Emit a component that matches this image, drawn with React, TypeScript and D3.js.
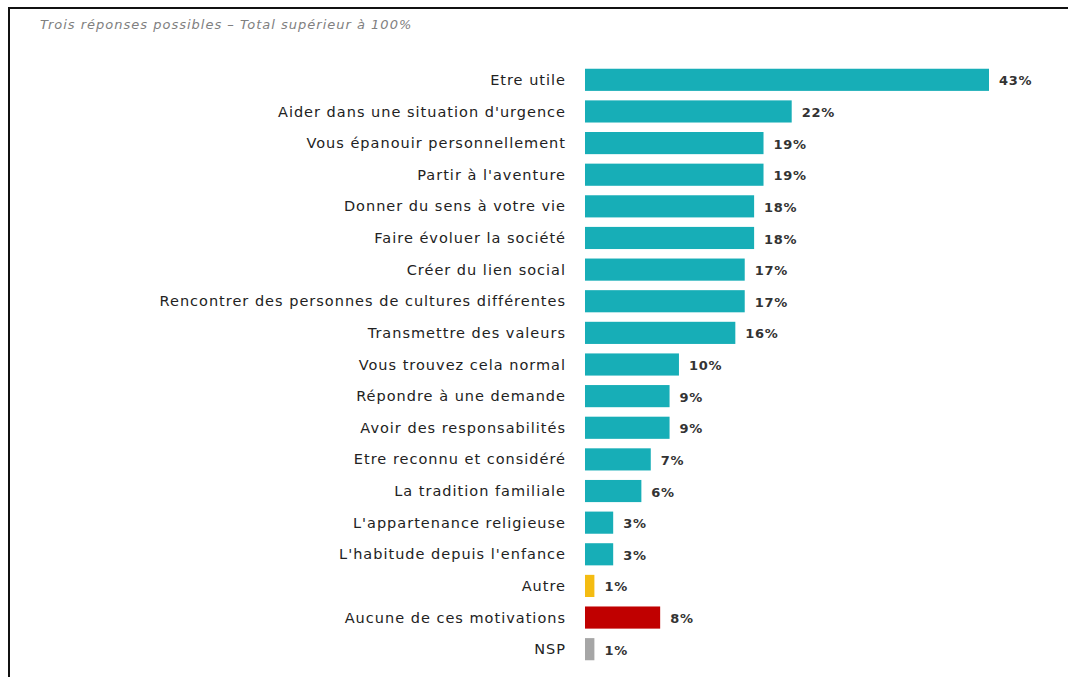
import { useEffect, useRef } from 'react';
import * as d3 from 'd3';

const categories = [
  'Etre utile',
  "Aider dans une situation d'urgence",
  'Vous épanouir personnellement',
  "Partir à l'aventure",
  'Donner du sens à votre vie',
  'Faire évoluer la société',
  'Créer du lien social',
  'Rencontrer des personnes de cultures différentes',
  'Transmettre des valeurs',
  'Vous trouvez cela normal',
  'Répondre à une demande',
  'Avoir des responsabilités',
  'Etre reconnu et considéré',
  'La tradition familiale',
  "L'appartenance religieuse",
  "L'habitude depuis l'enfance",
  'Autre',
  'Aucune de ces motivations',
  'NSP',
];
const values = [43, 22, 19, 19, 18, 18, 17, 17, 16, 10, 9, 9, 7, 6, 3, 3, 1, 8, 1];
const barColors = [
  '#17aeb7', '#17aeb7', '#17aeb7', '#17aeb7', '#17aeb7', '#17aeb7', '#17aeb7', '#17aeb7',
  '#17aeb7', '#17aeb7', '#17aeb7', '#17aeb7', '#17aeb7', '#17aeb7', '#17aeb7', '#17aeb7',
  '#f4bc12', '#c00000', '#a6a6a6',
];
const subtitle = 'Trois réponses possibles – Total supérieur à 100%';

export default function App() {
  const svgRef = useRef<SVGSVGElement | null>(null);

  useEffect(() => {
    if (!svgRef.current) return;
    const width = 1068;
    const height = 677;
    const svg = d3.select(svgRef.current);
    svg.selectAll('*').remove();
    svg.attr('width', width).attr('height', height);

    // frame
    svg.append('rect').attr('width', width).attr('height', height).attr('fill', '#fff');
    svg.append('line').attr('x1', 8).attr('x2', width).attr('y1', 8).attr('y2', 8)
      .attr('stroke', '#111').attr('stroke-width', 2);
    svg.append('line').attr('x1', 9).attr('x2', 9).attr('y1', 7).attr('y2', height)
      .attr('stroke', '#111').attr('stroke-width', 2);

    svg.append('text')
      .attr('x', 40).attr('y', 29)
      .attr('font-family', 'DejaVu Sans, sans-serif')
      .attr('font-size', 13)
      .attr('font-style', 'italic')
      .attr('letter-spacing', 1)
      .attr('fill', '#808080')
      .text(subtitle);

    const x0 = 585;
    const x = d3.scaleLinear().domain([0, 43]).range([x0, 989]);
    const y = d3.scaleBand<string>().domain(categories).range([64, 665]).paddingInner(0.3).paddingOuter(0.15);

    const rows = svg.append('g').selectAll('g').data(categories).join('g');

    rows.append('rect')
      .attr('x', x0)
      .attr('y', d => y(d)!)
      .attr('width', (d, i) => x(values[i]) - x0)
      .attr('height', y.bandwidth())
      .attr('fill', (d, i) => barColors[i]);

    rows.append('text')
      .attr('x', 566)
      .attr('y', d => y(d)! + y.bandwidth() / 2)
      .attr('dy', '0.35em')
      .attr('text-anchor', 'end')
      .attr('font-family', 'DejaVu Sans, sans-serif')
      .attr('font-size', 14.5)
      .attr('letter-spacing', 1)
      .attr('fill', '#222')
      .text(d => d);

    rows.append('text')
      .attr('x', (d, i) => x(values[i]) + 10)
      .attr('y', d => y(d)! + y.bandwidth() / 2 + 1)
      .attr('dy', '0.35em')
      .attr('font-family', 'DejaVu Sans, sans-serif')
      .attr('font-size', 13)
      .attr('font-weight', 700)
      .attr('letter-spacing', 0.7)
      .attr('fill', '#333')
      .text((d, i) => `${values[i]}%`);
  }, []);

  return (
    <div style={{ position: 'absolute', left: 0, top: 0 }}>
      <svg ref={svgRef} style={{ display: 'block' }}></svg>
    </div>
  );
}
